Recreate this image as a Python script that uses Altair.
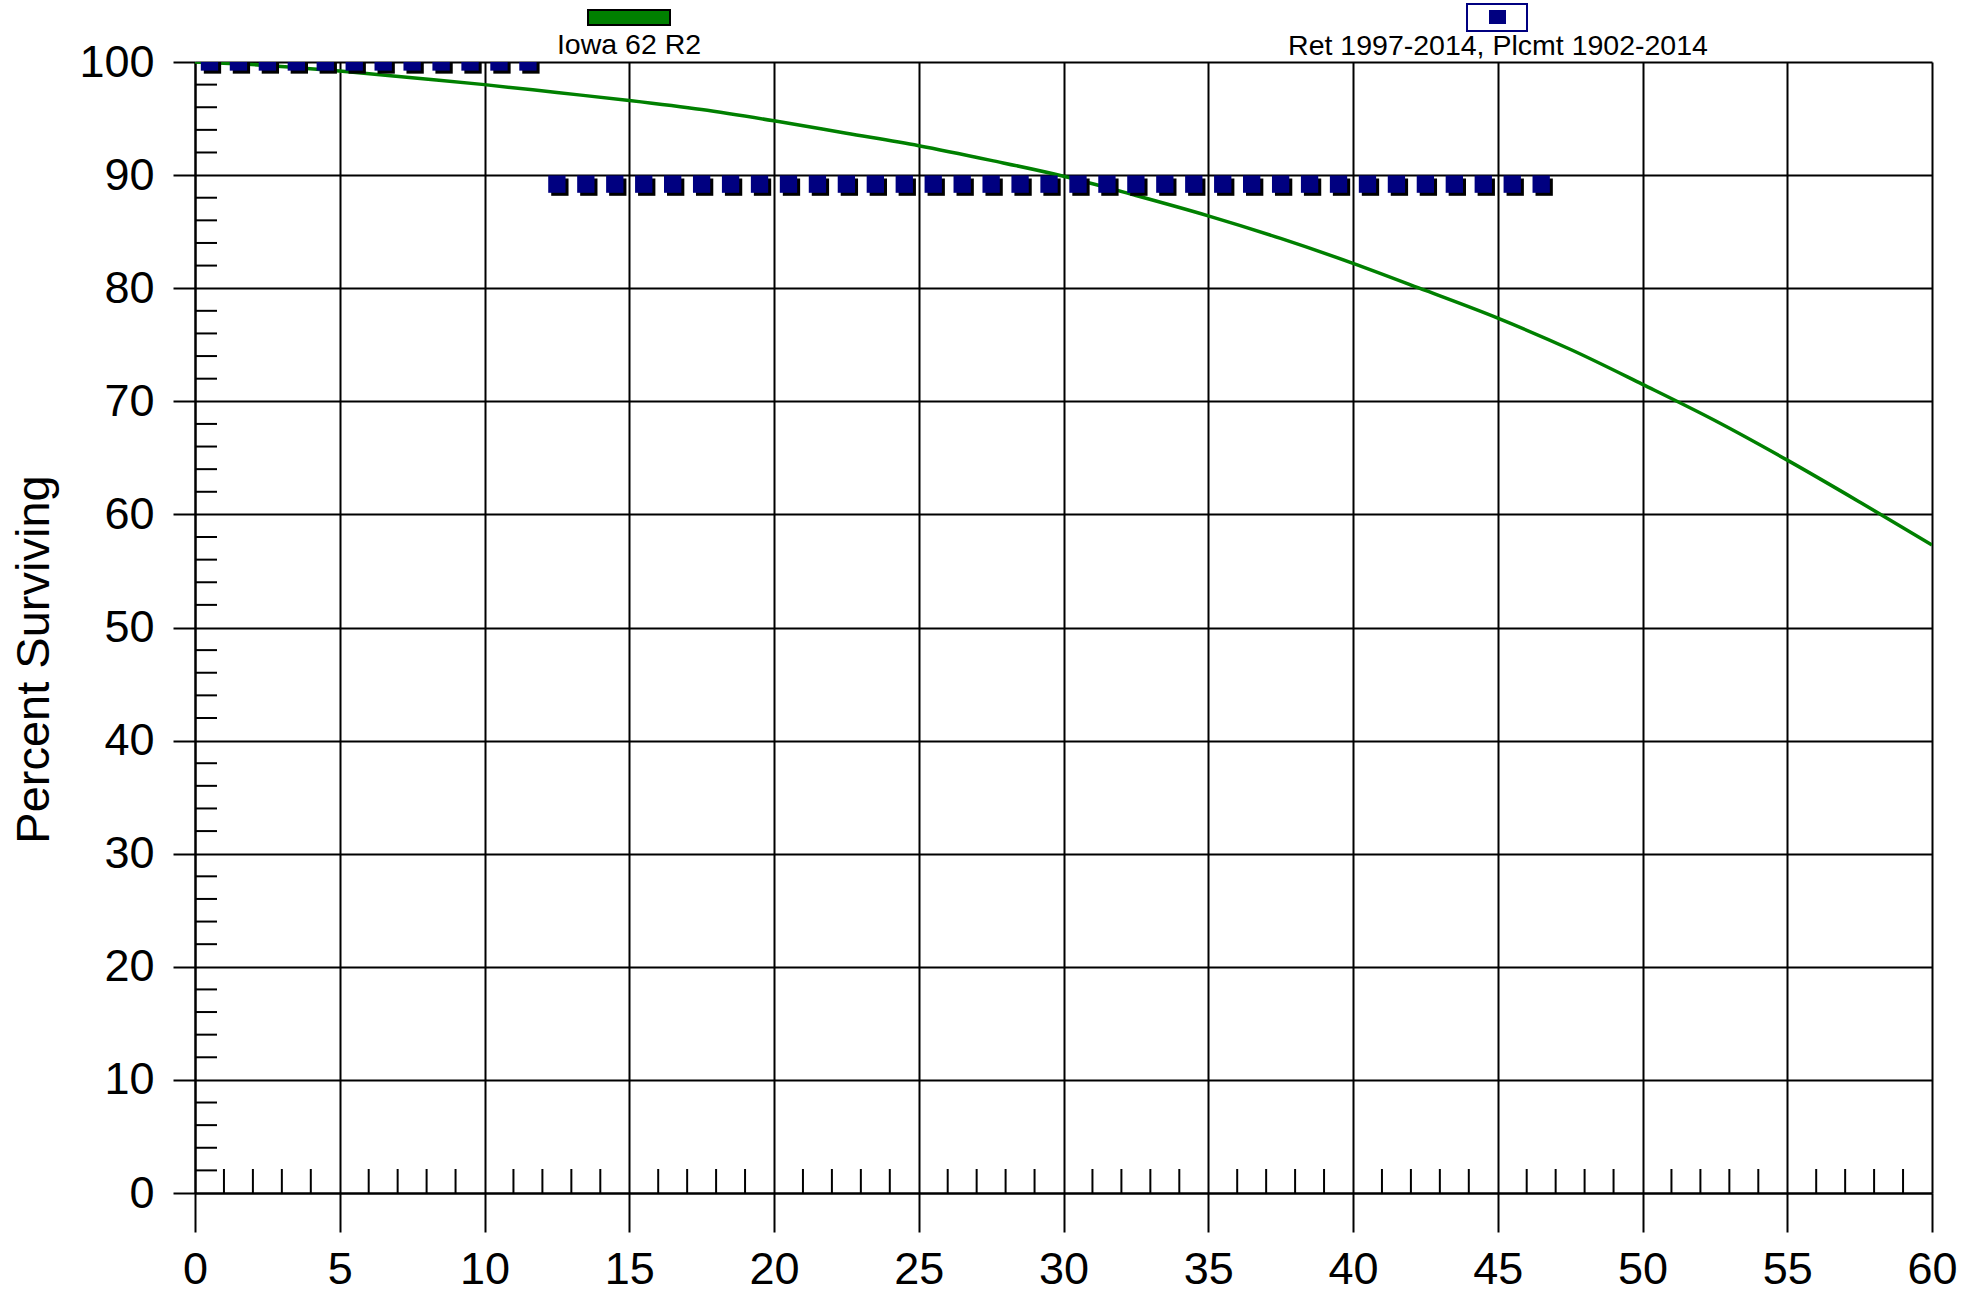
import altair as alt
import pandas as pd

# ---- data ----
curve_age = [0, 2.5, 5, 7.5, 10, 12.5, 15, 17.5, 20, 22.5, 25, 27.5, 30,
             32.5, 35, 37.5, 40, 42.5, 45, 47.5, 50, 52.5, 55, 57.5, 60]
curve_pct = [100, 99.7, 99.2, 98.6, 98.0, 97.3, 96.6, 95.8, 94.8, 93.7, 92.6,
             91.3, 89.9, 88.2, 86.4, 84.4, 82.2, 79.8, 77.35, 74.6, 71.5,
             68.3, 64.8, 61.1, 57.3]

obs_age = [0.5, 1.5, 2.5, 3.5, 4.5, 5.5, 6.5, 7.5, 8.5, 9.5, 10.5, 11.5,
           12.5, 13.5, 14.5, 15.5, 16.5, 17.5, 18.5, 19.5, 20.5, 21.5, 22.5,
           23.5, 24.5, 25.5, 26.5, 27.5, 28.5, 29.5, 30.5, 31.5, 32.5, 33.5,
           34.5, 35.5, 36.5, 37.5, 38.5, 39.5, 40.5, 41.5, 42.5, 43.5, 44.5,
           45.5, 46.5]
obs_pct = [100, 100, 100, 100, 100, 100, 100, 100, 100, 100, 100, 100,
           89.2, 89.2, 89.2, 89.2, 89.2, 89.2, 89.2, 89.2, 89.2, 89.2, 89.2,
           89.2, 89.2, 89.2, 89.2, 89.2, 89.2, 89.2, 89.2, 89.2, 89.2, 89.2,
           89.2, 89.2, 89.2, 89.2, 89.2, 89.2, 89.2, 89.2, 89.2, 89.2, 89.2,
           89.2, 89.2]

x_major = [0, 5, 10, 15, 20, 25, 30, 35, 40, 45, 50, 55, 60]
y_major = [0, 10, 20, 30, 40, 50, 60, 70, 80, 90, 100]
x_minor = [a for a in range(1, 60) if a % 5 != 0]
y_minor = [p for p in range(2, 100, 2) if p % 10 != 0]

series_labels = ["Iowa 62 R2", "Ret 1997-2014, Plcmt 1902-2014"]

FONT = "Liberation Sans"
W, H = 1737, 1131

curve = pd.DataFrame({"age": curve_age, "pct": curve_pct})
obs = pd.DataFrame({"age": obs_age, "pct": obs_pct})
xmin_df = pd.DataFrame({"age": x_minor})
ymin_df = pd.DataFrame({"pct": y_minor})

xscale = alt.Scale(domain=[0, 60], nice=False, zero=False)
yscale = alt.Scale(domain=[0, 100], nice=False, zero=False)

xaxis = alt.Axis(values=x_major, grid=True, gridColor="black", gridWidth=2,
                 gridOpacity=1, domainColor="black", domainWidth=2,
                 tickColor="black", tickWidth=2, tickSize=39,
                 labelFont=FONT, labelFontSize=45, labelColor="black",
                 labelPadding=15, labelFlush=False, labelOverlap=False,
                 format="d", title=None)
yaxis = alt.Axis(values=y_major, grid=True, gridColor="black", gridWidth=2,
                 gridOpacity=1, domainColor="black", domainWidth=2,
                 tickColor="black", tickWidth=2, tickSize=22,
                 labelFont=FONT, labelFontSize=45, labelColor="black",
                 labelPadding=19, labelFlush=False, labelOverlap=False,
                 format="d", title="Percent Surviving",
                 titleFont=FONT, titleFontSize=47, titleFontWeight="normal",
                 titleColor="black", titleAngle=270, titleX=-147, titleY=597,
                 titleAlign="center", titleBaseline="alphabetic")

X = alt.X("age:Q", scale=xscale, axis=xaxis)
Y = alt.Y("pct:Q", scale=yscale, axis=yaxis)

line = alt.Chart(curve).mark_line(color="#008000", strokeWidth=3.5,
                                  interpolate="monotone", clip=True).encode(x=X, y=Y)

shadow = alt.Chart(obs).mark_square(size=300, color="black", opacity=1,
                                    xOffset=3, yOffset=3, clip=True).encode(x=X, y=Y)
squares = alt.Chart(obs).mark_square(size=300, color="#000080", opacity=1,
                                     clip=True).encode(x=X, y=Y)

xminor = alt.Chart(xmin_df).mark_rule(color="black", strokeWidth=2).encode(
    x=alt.X("age:Q", scale=xscale, axis=xaxis),
    y=alt.value(H), y2=alt.value(H - 24))
yminor = alt.Chart(ymin_df).mark_rule(color="black", strokeWidth=2).encode(
    y=alt.Y("pct:Q", scale=yscale, axis=yaxis),
    x=alt.value(0), x2=alt.value(22))

leg1_df = pd.DataFrame({"label": [series_labels[0]]})
leg2_df = pd.DataFrame({"label": [series_labels[1]]})

leg1_rect = alt.Chart(leg1_df).mark_rect(fill="#008000", stroke="black",
                                         strokeWidth=2).encode(
    x=alt.value(393), x2=alt.value(475), y=alt.value(-52), y2=alt.value(-37))
leg1_text = alt.Chart(leg1_df).mark_text(font=FONT, fontSize=28.5, color="black",
                                         align="center", baseline="alphabetic").encode(
    x=alt.value(434), y=alt.value(-8), text="label:N")

leg2_box = alt.Chart(leg2_df).mark_rect(fill="white", stroke="#000080",
                                        strokeWidth=2).encode(
    x=alt.value(1272), x2=alt.value(1332), y=alt.value(-58), y2=alt.value(-31))
leg2_sq = alt.Chart(leg2_df).mark_rect(fill="#000080").encode(
    x=alt.value(1294), x2=alt.value(1311), y=alt.value(-52), y2=alt.value(-38))
leg2_text = alt.Chart(leg2_df).mark_text(font=FONT, fontSize=28.5, color="black",
                                         align="center", baseline="alphabetic").encode(
    x=alt.value(1303), y=alt.value(-7), text="label:N")

chart = alt.layer(
    line, xminor, yminor, shadow, squares,
    leg1_rect, leg1_text, leg2_box, leg2_sq, leg2_text
).properties(
    width=W, height=H,
    autosize=alt.AutoSizeParams(type="none"),
    padding={"left": 195, "top": 62, "right": 45, "bottom": 97},
    background="white",
).configure_view(stroke=None)

chart.save("out.html", embed_options={"renderer": "svg", "actions": False})
